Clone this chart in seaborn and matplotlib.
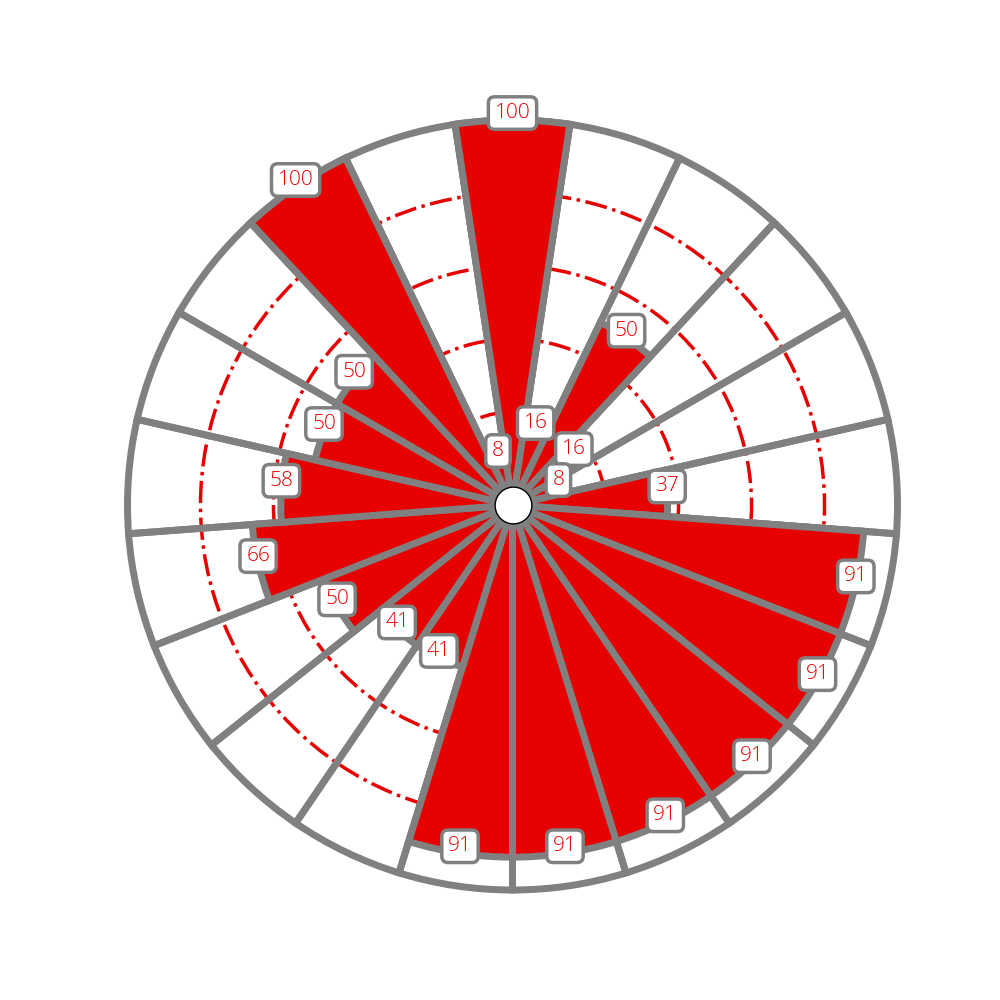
import numpy as np
import matplotlib
matplotlib.use("Agg")
import matplotlib.pyplot as plt
import seaborn as sns

# ---- data (clockwise from the top) ----
categories = [f"S{i + 1}" for i in range(21)]
values = [100, 16, 50, 16, 8, 37, 91, 91, 91, 91, 91, 91, 41, 41, 50, 66, 58, 50, 50, 100, 8]
label_texts = [str(v) for v in values]
grid_levels = [20, 40, 60, 80]
r_max = 100

RED = "#e60000"
GRAY = "#808080"

sns.set_theme(style="white")
plt.rcParams["font.family"] = ["Open Sans", "DejaVu Sans"]

fig = plt.figure(figsize=(10, 10), dpi=100)
ax = fig.add_subplot(111, projection="polar")
ax.set_theta_zero_location("N")
ax.set_theta_direction(-1)

n = len(values)
theta = np.arange(n) * 2 * np.pi / n
width = 2 * np.pi / n

ax.set_ylim(0, r_max)
ax.set_rorigin(-5.5)

# radial grid (red dash-dot)
ax.set_rgrids(grid_levels)
ax.set_yticklabels([])
ax.set_xticks([])
ax.yaxis.grid(True, color=RED, linestyle="-.", linewidth=2.5)
ax.set_axisbelow(True)
ax.spines["polar"].set_visible(False)

# outline sectors (full height)
outline = ax.bar(theta, [r_max] * n, width=width, bottom=0, facecolor="none",
                 edgecolor=GRAY, linewidth=5, zorder=3)
# value sectors
filled = ax.bar(theta, values, width=width, bottom=0, color=RED,
                edgecolor=GRAY, linewidth=5, zorder=4)
for p in list(outline) + list(filled):
    p.set_clip_on(False)

# value labels
for t, v, s in zip(theta, values, label_texts):
    ax.annotate(s, xy=(t, v), xytext=(0, 5), textcoords="offset points",
                ha="center", va="center", fontsize=15, fontweight="light",
                color=RED, zorder=6, annotation_clip=False,
                bbox=dict(boxstyle="round,pad=0.3", fc="white", ec=GRAY, lw=2.5))

# centre hole
ax.scatter([0.5], [0.5], s=700, c="white", edgecolors="black", linewidths=1,
           transform=ax.transAxes, zorder=7, clip_on=False)

fig.savefig("out.png", dpi=100)
